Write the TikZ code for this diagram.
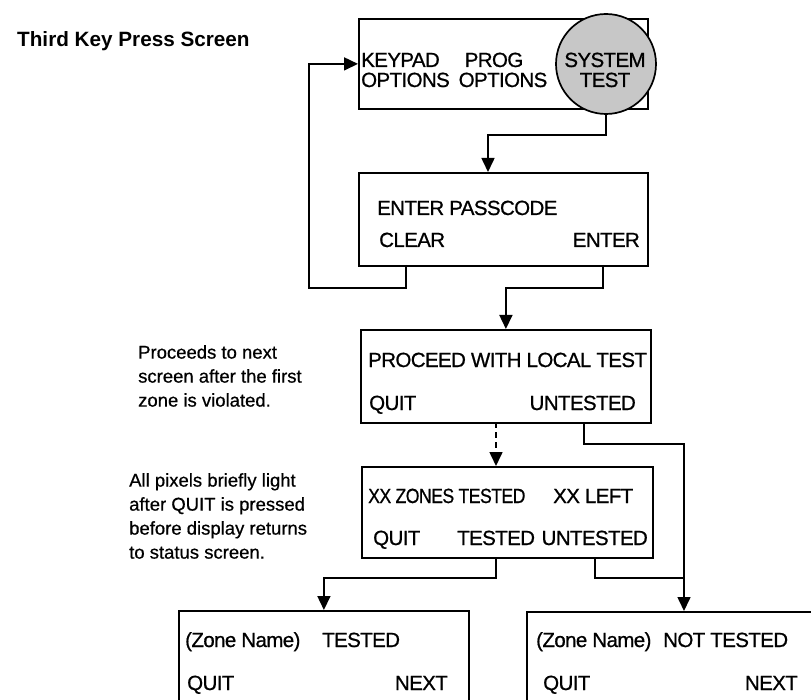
\documentclass[tikz,border=0pt]{standalone}
\usepackage{fontspec}
\usepackage{graphicx}
\setmainfont{Liberation Sans}
\newfontfamily\boxfont[LetterSpace=-3,FakeBold=0.8]{Liberation Sans}
\newfontfamily\notefont[FakeBold=0.6]{Liberation Sans}
\usetikzlibrary{arrows.meta}
\begin{document}
\begin{tikzpicture}[x=1pt,y=-1pt,
  box/.style={draw, line width=1.8pt, anchor=north west, inner sep=0pt},
  lbl/.style={font=\boxfont\fontsize{20.5}{24}\selectfont, inner sep=0pt},
  note/.style={font=\notefont\fontsize{18.5}{24}\selectfont, inner sep=0pt, align=left, anchor=north west},
  conn/.style={line width=1.6pt},
  arr/.style={conn, -{Triangle[length=14pt,width=13pt]}}]
\useasboundingbox (0,0) rectangle (811,700);
\clip (0,0) rectangle (811,700);

% title
\node[inner sep=0pt, anchor=base west, font=\fontsize{20.7}{24}\selectfont\bfseries] (title) at (17,47) {Third Key Press Screen};

% boxes
\node[box, minimum width=289pt, minimum height=90pt] (b1) at (358,18) {};
\node[draw, circle, fill=black!22, line width=1.7pt, minimum size=100pt, inner sep=0pt] (sys) at (606,64) {};
\node[box, minimum width=289pt, minimum height=93pt] (b2) at (358,172) {};
\node[box, minimum width=290pt, minimum height=93pt] (b3) at (360,329) {};
\node[box, minimum width=291pt, minimum height=91pt] (b4) at (361,466) {};
\node[box, minimum width=290pt, minimum height=120pt] (b5) at (178,610) {};
\node[box, minimum width=300pt, minimum height=120pt] (b6) at (526,611) {};

% box 1 texts
\node[lbl, anchor=base west] (k1) at (361,67) {KEYPAD};
\node[lbl, anchor=base west] (k2) at (361,87) {OPTIONS};
\node[lbl, anchor=base] (p1) at (494,67) {PROG};
\node[lbl, anchor=base] (p2) at (503,87) {OPTIONS};
\node[lbl, anchor=base] (s1) at (605,67) {SYSTEM};
\node[lbl, anchor=base] (s2) at (605,87) {TEST};

% box 2 texts
\node[lbl, anchor=base west] (e1) at (377,215) {ENTER PASSCODE};
\node[lbl, anchor=base west] (e2) at (379,247) {CLEAR};
\node[lbl, anchor=base east] (e3) at (640,247) {ENTER};

% box 3 texts
\node[lbl, anchor=base west] (q1) at (368,367) {PROCEED WITH LOCAL TEST};
\node[lbl, anchor=base west] (q2) at (369,410) {QUIT};
\node[lbl, anchor=base east] (q3) at (636,410) {UNTESTED};

% box 4 texts
\node[lbl, anchor=base west] (z1) at (368,503) {\scalebox{0.86}[1]{XX ZONES TESTED}};
\node[lbl, anchor=base west] (z2) at (553,503) {XX LEFT};
\node[lbl, anchor=base west] (z3) at (373,545) {QUIT};
\node[lbl, anchor=base west] (z4) at (457,545) {TESTED};
\node[lbl, anchor=base east] (z5) at (648,545) {UNTESTED};

% box 5 texts
\node[lbl, anchor=base west] (n1) at (185,647) {(Zone Name)};
\node[lbl, anchor=base west] (n2) at (322,647) {TESTED};
\node[lbl, anchor=base west] (n3) at (187,690) {QUIT};
\node[lbl, anchor=base east] (n4) at (448,690) {NEXT};

% box 6 texts
\node[lbl, anchor=base west] (m1) at (536,647) {(Zone Name)};
\node[lbl, anchor=base west] (m2) at (663,647) {NOT TESTED};
\node[lbl, anchor=base west] (m3) at (543,690) {QUIT};
\node[lbl, anchor=base east] (m4) at (798,690) {NEXT};

% notes
\node[note] (note1) at (138,345) {Proceeds to next\\screen after the first\\zone is violated.};
\node[note] (note2) at (129,473) {All pixels briefly light\\after QUIT is pressed\\before display returns\\to status screen.};

% connector coordinates
\coordinate (b2in) at (488,172);
\coordinate (clr) at (406,265);
\coordinate (lpc) at (309,288);
\coordinate (ent) at (603,265);
\coordinate (dq) at (496,422);
\coordinate (dq2) at (496,466);
\coordinate (u3) at (584,422);
\coordinate (b6in) at (684,611);
\coordinate (t4) at (496,557);
\coordinate (u4) at (595,557);
\coordinate (jn) at (684,578);

% connectors
\draw[arr] (sys.south) -- ++(0,20) -| (b2in);
\draw[arr] (clr) |- (lpc) |- (b1.west);
\draw[arr] (ent) -- ++(0,23) -| (b3.north);
\draw[arr, dash pattern=on 6pt off 4pt] (dq) -- (dq2);
\draw[arr] (u3) -- ++(0,22) -| (b6in);
\draw[arr] (t4) -- ++(0,21) -| (b5.north);
\draw[conn] (u4) |- (jn);
\end{tikzpicture}
\end{document}
